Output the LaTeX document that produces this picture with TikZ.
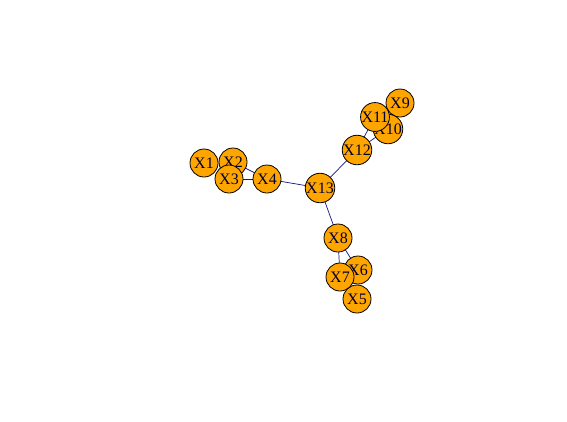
\documentclass[tikz,border=0pt]{standalone}
\usepackage{fontspec}
\setmainfont{Liberation Serif}
\definecolor{edgecol}{RGB}{20,20,130}
\definecolor{nodecol}{RGB}{255,165,0}
\begin{document}
\begin{tikzpicture}[x=1pt,y=-1pt,
  vtx/.style={circle,draw=black,fill=nodecol,line width=0.8pt,minimum size=28pt,inner sep=0pt,font=\fontsize{16}{16}\selectfont,text=black!80!blue},
  lnk/.style={draw=edgecol,line width=0.7pt}]
\useasboundingbox (0,0) rectangle (567,421);
\fill[white] (0,0) rectangle (567,421);
\coordinate (c1) at (204,163);
\coordinate (c2) at (233,162);
\coordinate (c3) at (229,179);
\coordinate (c4) at (267,179);
\coordinate (c13) at (320,188);
\coordinate (c12) at (357,150);
\coordinate (c11) at (375,117);
\coordinate (c10) at (388,129);
\coordinate (c9) at (400,103);
\coordinate (c8) at (338,238);
\coordinate (c7) at (340,277);
\coordinate (c6) at (358,270);
\coordinate (c5) at (357,299);
\draw[lnk] (c2) -- (c4);
\draw[lnk] (c3) -- (c4);
\draw[lnk] (c4) -- (c13);
\draw[lnk] (c13) -- (c12);
\draw[lnk] (c12) -- (c11);
\draw[lnk] (c12) -- (c10);
\draw[lnk] (c13) -- (c8);
\draw[lnk] (c8) -- (c7);
\draw[lnk] (c8) -- (c6);
\node[vtx] (X1) at (c1) {X1};
\node[vtx] (X2) at (c2) {X2};
\node[vtx] (X3) at (c3) {X3};
\node[vtx] (X4) at (c4) {X4};
\node[vtx] (X13) at (c13) {X13};
\node[vtx] (X12) at (c12) {X12};
\node[vtx] (X9) at (c9) {X9};
\node[vtx] (X10) at (c10) {X10};
\node[vtx] (X11) at (c11) {X11};
\node[vtx] (X8) at (c8) {X8};
\node[vtx] (X5) at (c5) {X5};
\node[vtx] (X6) at (c6) {X6};
\node[vtx] (X7) at (c7) {X7};
\end{tikzpicture}
\end{document}
